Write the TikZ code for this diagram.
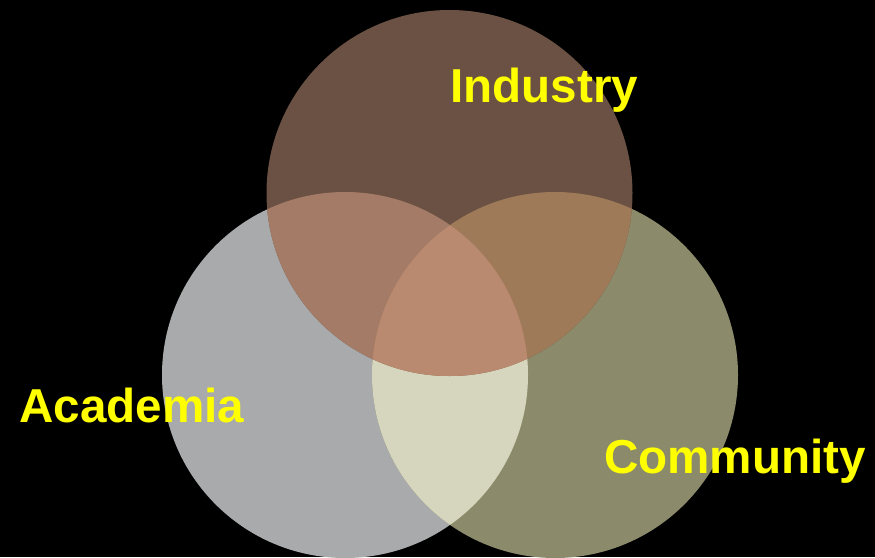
\documentclass[tikz,border=0pt]{standalone}
\usepackage{fontspec}
\setmainfont{Liberation Sans}
\definecolor{indC}{HTML}{6B5143}
\definecolor{acaC}{HTML}{A9AAAB}
\definecolor{comC}{HTML}{8B8B6B}
\definecolor{acC}{HTML}{D6D6BF}
\definecolor{iaC}{HTML}{A47B66}
\definecolor{icC}{HTML}{9E7A58}
\definecolor{iacC}{HTML}{B98970}
\definecolor{labC}{HTML}{FFFF00}
\tikzset{
  lab/.style={anchor=base west, inner sep=0pt, text=labC, font=\fontsize{47.6}{50}\selectfont\bfseries}
}
\begin{document}
\begin{tikzpicture}[x=1pt,y=-1pt]
\fill[black] (0,0) rectangle (875,557);
\useasboundingbox (0,0) rectangle (875,557);
\def\rr{183}
\coordinate (ci) at (449.5,193);
\coordinate (ca) at (345,375);
\coordinate (cc) at (555,375);
% base circles
\fill[acaC] (ca) circle (\rr);
\fill[comC] (cc) circle (\rr);
\fill[indC] (ci) circle (\rr);
% Academia & Community
\begin{scope}
  \clip (ca) circle (\rr);
  \fill[acC] (cc) circle (\rr);
\end{scope}
% Industry & others
\begin{scope}
  \clip (ci) circle (\rr);
  \fill[iaC] (ca) circle (\rr);
  \fill[icC] (cc) circle (\rr);
  \begin{scope}
    \clip (ca) circle (\rr);
    \fill[iacC] (cc) circle (\rr);
  \end{scope}
\end{scope}
\node[lab] (industry) at (450,102) {Industry};
\node[lab] (academia) at (19,422) {Academia};
\node[lab] (community) at (604,473) {Community};
\end{tikzpicture}
\end{document}
